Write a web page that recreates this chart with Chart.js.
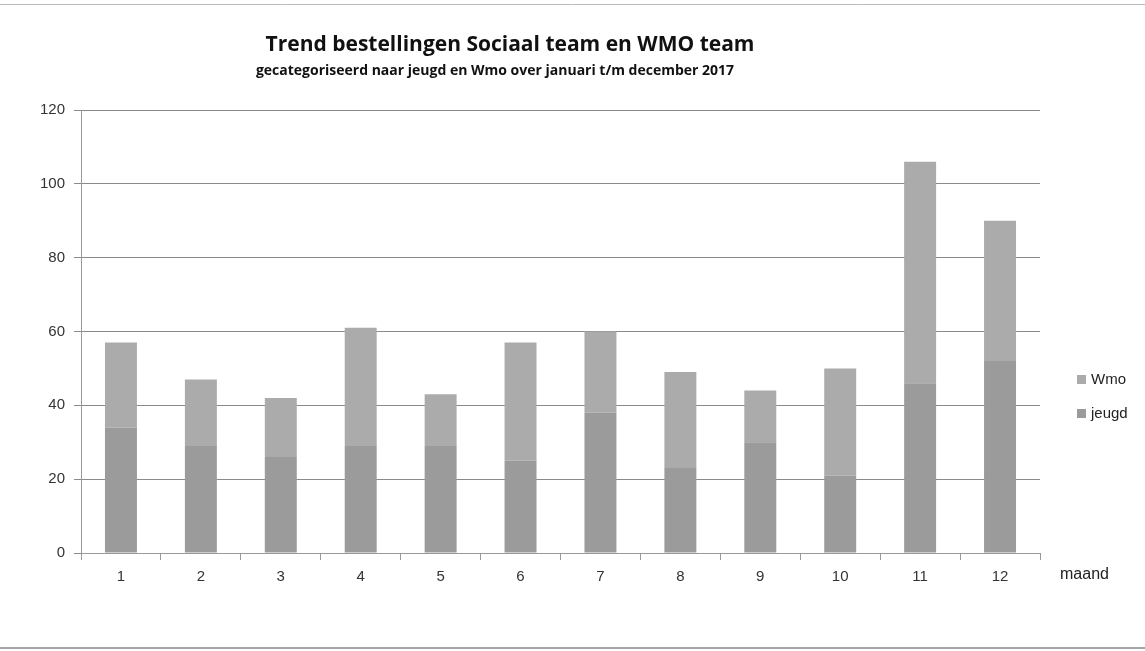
<!DOCTYPE html>
<html>
<head>
<meta charset="utf-8">
<script src="https://cdn.jsdelivr.net/npm/chart.js@4"></script>
<style>
  html, body { margin: 0; padding: 0; background: #fff; }
  #wrap { width: 1145px; height: 651px; }
</style>
</head>
<body>
<div id="wrap"><canvas id="myChart" width="1145" height="651"></canvas></div>
<script>
// maanden en aantallen per maand
var months = ['1', '2', '3', '4', '5', '6', '7', '8', '9', '10', '11', '12'];
var jeugd = [34, 29, 26, 29, 29, 25, 38, 23, 30, 21, 46, 52];
var wmo = [23, 18, 16, 32, 14, 32, 22, 26, 14, 29, 60, 38];
var yTicks = [0, 20, 40, 60, 80, 100, 120];

var titleText = 'Trend bestellingen Sociaal team en WMO team';
var subText = 'gecategoriseerd naar jeugd en Wmo over januari t/m december 2017';

var JEUGD_COLOR = '#9b9b9b';
var WMO_COLOR = '#ababab';

// titels, legenda, 'maand' en de randlijnen
var decor = {
  id: 'decor',
  afterDraw: function (chart) {
    var ctx = chart.ctx;
    ctx.save();
    ctx.fillStyle = '#111';
    ctx.textAlign = 'center';
    ctx.textBaseline = 'middle';
    ctx.font = 'bold 21px "Open Sans", sans-serif';
    ctx.fillText(titleText, 510, 45);
    ctx.font = 'bold 14px "Open Sans", sans-serif';
    ctx.fillText(subText, 495, 71);

    // legenda
    ctx.textAlign = 'left';
    ctx.font = '15px "Liberation Sans", sans-serif';
    ctx.fillStyle = WMO_COLOR;
    ctx.fillRect(1077, 375, 9, 9);
    ctx.fillStyle = JEUGD_COLOR;
    ctx.fillRect(1077, 409, 9, 9);
    ctx.fillStyle = '#222';
    ctx.fillText('Wmo', 1091, 380);
    ctx.fillText('jeugd', 1091, 414);

    ctx.font = '16px "Liberation Sans", sans-serif';
    ctx.fillText('maand', 1060, 575);

    // lijnen boven en onder
    ctx.strokeStyle = '#bbb';
    ctx.lineWidth = 1;
    ctx.beginPath();
    ctx.moveTo(0, 4.5);
    ctx.lineTo(1145, 4.5);
    ctx.stroke();
    ctx.strokeStyle = '#888';
    ctx.lineWidth = 1.5;
    ctx.beginPath();
    ctx.moveTo(0, 648);
    ctx.lineTo(1145, 648);
    ctx.stroke();
    ctx.restore();
  }
};

var ctx = document.getElementById('myChart').getContext('2d');
var myChart = new Chart(ctx, {
  type: 'bar',
  data: {
    labels: months,
    datasets: [
      {
        label: 'jeugd',
        data: jeugd,
        backgroundColor: JEUGD_COLOR,
        barPercentage: 0.8,
        categoryPercentage: 0.5,
      },
      {
        label: 'Wmo',
        data: wmo,
        backgroundColor: WMO_COLOR,
        barPercentage: 0.8,
        categoryPercentage: 0.5,
      },
    ],
  },
  options: {
    responsive: false,
    animation: false,
    layout: {
      padding: { left: 0, right: 105, top: 110, bottom: 0 },
    },
    plugins: {
      legend: { display: false },
      title: { display: false },
      tooltip: { enabled: false },
    },
    scales: {
      x: {
        stacked: true,
        grid: {
          drawOnChartArea: false,
          drawTicks: true,
          tickLength: 7,
          color: '#999',
        },
        border: { color: '#999' },
        ticks: {
          padding: 8,
          color: '#333',
          font: { family: 'Liberation Sans', size: 15 },
          maxRotation: 0,
        },
        afterFit: function (scale) {
          scale.height = 98;
        },
      },
      y: {
        stacked: true,
        min: 0,
        max: 120,
        afterBuildTicks: function (scale) {
          scale.ticks = yTicks.map(function (v) { return { value: v }; });
        },
        grid: {
          color: '#8a8a8a',
          tickLength: 7,
          drawTicks: true,
        },
        border: { color: '#999' },
        ticks: {
          padding: 9,
          color: '#333',
          font: { family: 'Liberation Sans', size: 15 },
        },
        afterFit: function (scale) {
          scale.width = 81;
        },
      },
    },
  },
  plugins: [decor],
});
</script>
</body>
</html>
